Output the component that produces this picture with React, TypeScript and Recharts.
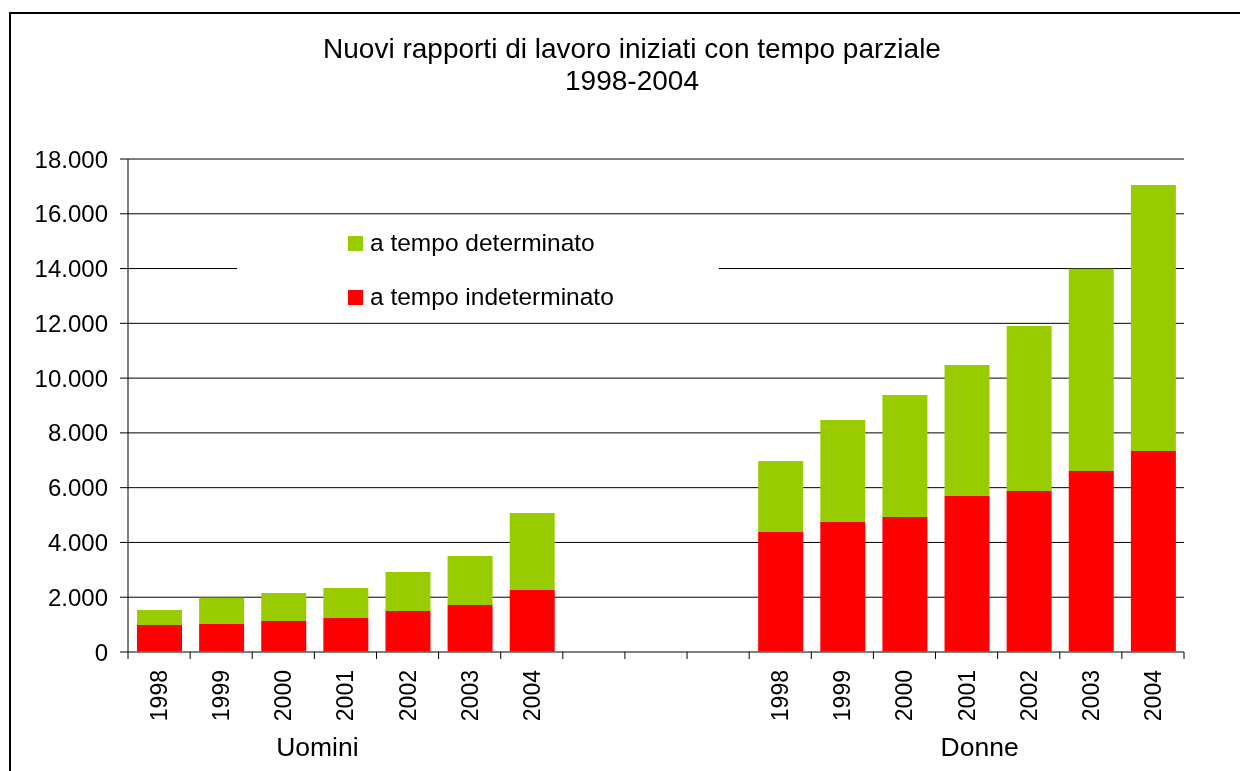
import React from 'react';
import { Bar, BarChart, CartesianGrid, Legend, XAxis, YAxis } from 'recharts';

// Nuovi rapporti di lavoro a tempo parziale, 1998-2004, uomini vs donne.
const YEARS = ['1998', '1999', '2000', '2001', '2002', '2003', '2004'];
const GAP_SLOTS = 3;
const GROUPS = ['Uomini', 'Donne'];

const UOMINI_IND = [990, 1020, 1130, 1240, 1500, 1715, 2265];
const UOMINI_DET = [545, 960, 1020, 1095, 1420, 1790, 2810];
const DONNE_IND = [4380, 4745, 4930, 5695, 5880, 6610, 7340];
const DONNE_DET = [2590, 3725, 4455, 4780, 6025, 7385, 9710];

const Y_TICKS = [0, 2000, 4000, 6000, 8000, 10000, 12000, 14000, 16000, 18000];

const GREEN = '#99CC00';
const RED = '#FF0000';
const FONT = '"Liberation Sans", Arial, sans-serif';

const W = 1224;
const H = 755;
const MARGIN = { top: 151, right: 48, left: 60, bottom: 0 };
const Y_W = 60;

type Row = { key: string; year: string; group: string; ind?: number; det?: number };

const rows: Row[] = [];
YEARS.forEach((y, i) =>
  rows.push({ key: 'u' + y, year: y, group: i === 3 ? GROUPS[0] : '', ind: UOMINI_IND[i], det: UOMINI_DET[i] }),
);
for (let g = 0; g < GAP_SLOTS; g++) rows.push({ key: 'gap' + g, year: '', group: '' });
YEARS.forEach((y, i) =>
  rows.push({ key: 'd' + y, year: y, group: i === 3 ? GROUPS[1] : '', ind: DONNE_IND[i], det: DONNE_DET[i] }),
);

const plotW = W - MARGIN.left - Y_W - MARGIN.right;
const half = plotW / rows.length / 2;

const fmt = (v: number) => String(v).replace(/\B(?=(\d{3})+(?!\d))/g, '.');

function CatTick(props: any) {
  const { x, y, payload } = props;
  const i = payload.index ?? props.index;
  const row = rows[i];
  if (!row) return null;
  const groupDx = row.group === GROUPS[0] ? -28 : 13;
  return (
    <g>
      <line x1={x - half} x2={x - half} y1={y} y2={y + 7} stroke="#000" />
      {i === rows.length - 1 && <line x1={x + half} x2={x + half} y1={y} y2={y + 7} stroke="#000" />}
      {row.year && (
        <text
          transform={`translate(${x + 8},${y + 18}) rotate(-90)`}
          textAnchor="end"
          fontSize={23}
          fontFamily={FONT}
          fill="#000"
        >
          {row.year}
        </text>
      )}
      {row.group && (
        <text x={x + groupDx} y={y + 104} textAnchor="middle" fontSize={26.5} fontFamily={FONT} fill="#000">
          {row.group}
        </text>
      )}
    </g>
  );
}

const LEGEND_ITEMS = [
  { label: 'a tempo determinato', color: GREEN },
  { label: 'a tempo indeterminato', color: RED },
];

function LegendBox() {
  return (
    <div style={{ position: 'relative', width: 482, height: 90, background: '#fff', fontFamily: FONT }}>
      {LEGEND_ITEMS.map((it, i) => (
        <div
          key={it.label}
          style={{
            position: 'absolute', left: 111, top: 3 + i * 54, height: 30,
            display: 'flex', alignItems: 'center', fontSize: 24.5, color: '#000', whiteSpace: 'nowrap',
          }}
        >
          <span style={{ width: 15, height: 15, background: it.color, marginRight: 7, display: 'inline-block' }} />
          {it.label}
        </div>
      ))}
    </div>
  );
}

export default function App() {
  return (
    <div style={{ position: 'relative', width: W, height: H, fontFamily: FONT }}>
      <div
        style={{
          position: 'fixed', left: 9, top: 12, width: 1400, height: 900,
          borderLeft: '2px solid #000', borderTop: '2px solid #000',
        }}
      />
      <div
        style={{
          position: 'absolute', left: 0, top: 25, width: 1248, textAlign: 'center',
          fontSize: 28, lineHeight: '32px', color: '#000', whiteSpace: 'nowrap',
        }}
      >
        Nuovi rapporti di lavoro iniziati con tempo parziale
        <br />
        1998-2004
      </div>
      <div style={{ position: 'absolute', left: 0, top: 0 }}>
        <BarChart width={W} height={H} data={rows} margin={MARGIN} barSize={45}>
          <CartesianGrid stroke="#000" vertical={false} />
          <XAxis
            dataKey="key"
            interval={0}
            height={111}
            tickSize={0}
            tickMargin={0}
            tickLine={false}
            stroke="#808080"
            tick={<CatTick />}
          />
          <YAxis
            width={Y_W}
            domain={[0, 18000]}
            ticks={Y_TICKS}
            interval={0}
            tickSize={8}
            tickMargin={12}
            stroke="#000"
            tickFormatter={fmt}
            tick={{ fontSize: 24, fill: '#000', fontFamily: FONT }}
          />
          <Legend
            layout="horizontal"
            verticalAlign="middle"
            align="center"
            wrapperStyle={{ left: 229, top: 217, width: 482, height: 90 }}
            content={() => <LegendBox />}
          />
          <Bar dataKey="ind" stackId="s" fill={RED} isAnimationActive={false} />
          <Bar dataKey="det" stackId="s" fill={GREEN} isAnimationActive={false} />
        </BarChart>
      </div>
    </div>
  );
}
